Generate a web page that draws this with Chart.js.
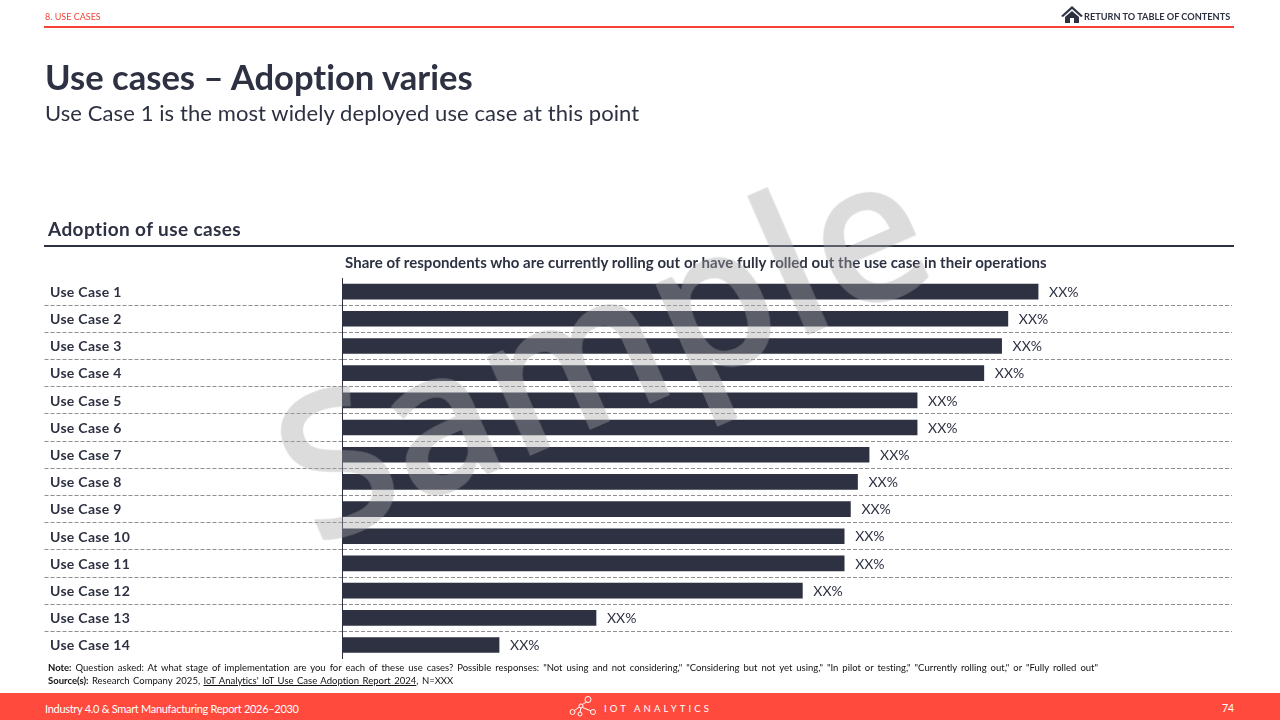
<!DOCTYPE html>
<html>
<head>
<meta charset="utf-8">
<title>Use cases - Adoption varies</title>
<script src="https://cdn.jsdelivr.net/npm/chart.js@4/dist/chart.umd.js"></script>
<style>
html, body { margin: 0; padding: 0; background: #fff; }
body { width: 1280px; height: 720px; position: relative; overflow: hidden; font-family: Lato, sans-serif; color: #2d3142; font-variant-ligatures: none; }
canvas { position: absolute; left: 0; top: 0; }
.t { position: absolute; white-space: nowrap; line-height: 1; }
.rule { position: absolute; }
#section { left: 45px; top: 12px; font-size: 9px; color: #f44336; }
#back { left: 1084px; top: 12px; font-size: 9.2px; font-weight: 700; }
#title { left: 45px; top: 60px; font-size: 34.6px; font-weight: 700; }
#subtitle { left: 45px; top: 102px; font-size: 22px; letter-spacing: .09px; }
#panel { left: 48px; top: 219px; font-size: 19px; font-weight: 700; letter-spacing: .4px; }
#measure { left: 345px; top: 254.5px; font-size: 15px; font-weight: 700; letter-spacing: .04px; }
#note { left: 48px; top: 663px; font-size: 9.5px; color: #111; word-spacing: 1.55px; }
#source { left: 48px; top: 676px; font-size: 9.5px; color: #111; word-spacing: 1.05px; }
#source a { color: inherit; }
#footer { left: 0; top: 693px; width: 1280px; height: 27px; background: #ff4a3d; }
#report { left: 45px; top: 703px; font-size: 11px; letter-spacing: -.3px; color: #fff; }
#brand { left: 604px; top: 704px; font-size: 9.5px; letter-spacing: 3.15px; color: #fff; }
#page { left: 1222px; top: 703px; font-size: 10.5px; color: #fff; }
#sample { left: 286px; top: 328px; font-family: "Open Sans", sans-serif; font-weight: 600; font-size: 200px; color: rgba(165,165,165,.39); transform-origin: 0 50%; transform: rotate(-23.5deg) scaleX(.96); pointer-events: none; line-height: 300px; }
</style>
</head>
<body>
<canvas id="adoptionChart" width="1280" height="720"></canvas>

<div class="t" id="section">8. USE CASES</div>
<svg class="rule" style="left:1061px;top:6px" width="22" height="18" viewBox="0 0 22 18">
  <path d="M11 0 L22 10 L20 11 L11 3 L2 11 L0 10 Z M4 11 L11 5 L18 11 V17 H13 V12 H9 V17 H4 Z" fill="#2d3142"/>
</svg>
<div class="t" id="back">RETURN TO TABLE OF CONTENTS</div>
<div class="rule" style="left:44px;top:26px;width:1190px;height:2px;background:#f44336"></div>
<div class="t" id="title">Use cases – Adoption varies</div>
<div class="t" id="subtitle">Use Case 1 is the most widely deployed use case at this point</div>
<div class="t" id="panel">Adoption of use cases</div>
<div class="rule" style="left:44px;top:245px;width:1190px;height:2px;background:#2d3142"></div>
<div class="t" id="measure">Share of respondents who are currently rolling out or have fully rolled out the use case in their operations</div>
<div class="t" id="note"><b>Note:</b> Question asked: At what stage of implementation are you for each of these use cases? Possible responses: "Not using and not considering," "Considering but not yet using," "In pilot or testing," "Currently rolling out," or "Fully rolled out"</div>
<div class="t" id="source"><b>Source(s):</b> Research Company 2025, <a href="#">IoT Analytics' IoT Use Case Adoption Report 2024</a>, N=XXX</div>
<div class="rule" id="footer"></div>
<div class="t" id="report">Industry 4.0 &amp; Smart Manufacturing Report 2026–2030</div>
<svg class="rule" style="left:569px;top:696px" width="28" height="22" viewBox="0 0 28 22" fill="none" stroke="#fff" stroke-width="1">
  <circle cx="3.5" cy="16" r="2.5"/><circle cx="12" cy="10" r="2"/><circle cx="11" cy="18" r="2"/><circle cx="19" cy="3.5" r="3"/><circle cx="24" cy="16" r="2.5"/>
  <path d="M5.5 14.5 L10.3 11 M13.5 11.5 L21.8 14.8 M13.2 8.5 L17.5 6 M11.8 12 L11.2 16"/>
</svg>
<div class="t" id="brand">IOT ANALYTICS</div>
<div class="t" id="page">74</div>
<div class="t" id="sample">Sample</div>

<script>
const categories = ['Use Case 1', 'Use Case 2', 'Use Case 3', 'Use Case 4', 'Use Case 5', 'Use Case 6', 'Use Case 7',
    'Use Case 8', 'Use Case 9', 'Use Case 10', 'Use Case 11', 'Use Case 12', 'Use Case 13', 'Use Case 14'];
const adoption = [78.2, 74.8, 74.1, 72.1, 64.6, 64.6, 59.2, 57.9, 57.1, 56.4, 56.4, 51.7, 28.5, 17.6];
const valueLabels = ['XX%', 'XX%', 'XX%', 'XX%', 'XX%', 'XX%', 'XX%', 'XX%', 'XX%', 'XX%', 'XX%', 'XX%', 'XX%', 'XX%'];

const dark = '#2d3142';
const dashColor = '#8f8f8f';

// Script for the "XX%" labels at the end of each bar
const barLabels = {
    id: 'barLabels',
    afterDatasetsDraw(chart) {
        const c = chart.ctx;
        c.save();
        c.font = '14px Lato';
        c.fillStyle = dark;
        c.textAlign = 'left';
        c.textBaseline = 'middle';
        chart.getDatasetMeta(0).data.forEach((bar, i) => {
            c.fillText(valueLabels[i], bar.x + 11, bar.y + 0.7);
        });
        c.restore();
        // the axis labels are on a later layer (ticks.z), they sit a bit lower and wider
        c.save();
        c.translate(0, 0.8);
        c.letterSpacing = '0.3px';
    },
    afterDraw(chart) {
        chart.ctx.restore();
    }
};

const ctx = document.getElementById('adoptionChart').getContext('2d');
const adoptionChart = new Chart(ctx, {
    type: 'bar',
    data: {
        labels: categories,
        datasets: [{
            label: 'Adoption',
            data: adoption,
            backgroundColor: dark,
            barThickness: 15
        }]
    },
    options: {
        indexAxis: 'y',
        responsive: false,
        animation: false,
        layout: { padding: { left: 50, right: 48, top: 278, bottom: 61.4 } },
        plugins: { legend: { display: false }, tooltip: { enabled: false } },
        scales: {
            x: { display: false, min: 0, max: 100, grid: { display: false } },
            y: {
                afterFit(scale) { scale.width = 292.5; },
                border: { color: dark, width: 1, dash: [4, 2] },
                grid: {
                    offset: true,
                    // only the lines between the rows, none on top or bottom
                    color: c => (c.type === 'tick' && c.index > 0) ? dashColor : 'transparent',
                    tickColor: c => (c.type === 'tick' && c.index > 0) ? dashColor : 'transparent',
                    tickBorderDash: [4, 2],
                    tickLength: 298,
                    lineWidth: 1
                },
                ticks: {
                    z: 1,
                    crossAlign: 'far',
                    color: dark,
                    font: { family: 'Lato', size: 14, weight: '700' },
                    autoSkip: false
                }
            }
        }
    },
    plugins: [barLabels]
});
</script>
</body>
</html>
